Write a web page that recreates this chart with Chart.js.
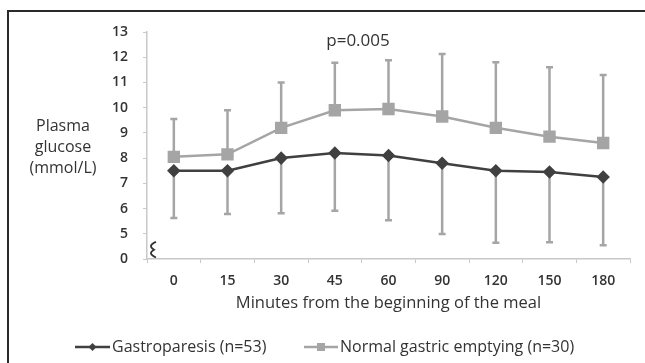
<!DOCTYPE html>
<html>
<head>
<meta charset="utf-8">
<script src="https://cdn.jsdelivr.net/npm/chart.js@4"></script>
<style>
  body { margin: 0; background: #fff; }
  #wrap { width: 645px; height: 363px; position: relative; }
</style>
</head>
<body>
<div id="wrap"><canvas id="glucoseChart" width="645" height="363"></canvas></div>
<script>
// Data
const minutes = ['0', '15', '30', '45', '60', '90', '120', '150', '180'];
const gastroparesis = [7.5, 7.5, 8.0, 8.2, 8.1, 7.8, 7.5, 7.45, 7.25];
const gastroparesisSD = [1.87, 1.72, 2.19, 2.29, 2.56, 2.81, 2.86, 2.79, 2.7];
const normalEmptying = [8.05, 8.15, 9.2, 9.9, 9.95, 9.65, 9.2, 8.85, 8.6];
const normalEmptyingSD = [1.5, 1.75, 1.8, 1.88, 1.93, 2.48, 2.6, 2.75, 2.7];
const yTicks = [0, 5, 6, 7, 8, 9, 10, 11, 12, 13];

const FONT = '"Open Sans", Lato, sans-serif';
const TEXT = '#333333';
const DARK = '#404040';
const GREY = '#a5a5a5';

// upper bars on the normal series, lower bars on the gastroparesis series
const errorBars = {
  id: 'errorBars',
  beforeDatasetsDraw(chart) {
    const ctx = chart.ctx;
    const y = chart.scales.y;
    const sets = [
      { meta: chart.getDatasetMeta(1), vals: normalEmptying, sd: normalEmptyingSD, dir: 1 },
      { meta: chart.getDatasetMeta(0), vals: gastroparesis, sd: gastroparesisSD, dir: -1 }
    ];
    ctx.save();
    ctx.strokeStyle = GREY;
    ctx.lineWidth = 2.5;
    sets.forEach(s => {
      s.meta.data.forEach((pt, i) => {
        const y0 = y.getPixelForValue(s.vals[i]);
        const y1 = y.getPixelForValue(s.vals[i] + s.dir * s.sd[i]);
        ctx.beginPath();
        ctx.moveTo(pt.x, y0);
        ctx.lineTo(pt.x, y1);
        ctx.moveTo(pt.x - 3.5, y1);
        ctx.lineTo(pt.x + 3.5, y1);
        ctx.stroke();
      });
    });
    ctx.restore();
  }
};

// frame, axis break, y label, p value and legend
const extras = {
  id: 'extras',
  afterDraw(chart) {
    const ctx = chart.ctx;
    const area = chart.chartArea;
    const y = chart.scales.y;
    ctx.save();

    ctx.strokeStyle = '#2a2a2a';
    ctx.lineWidth = 2;
    ctx.beginPath();
    ctx.moveTo(8, 363);
    ctx.lineTo(8, 11);
    ctx.lineTo(645, 11);
    ctx.stroke();

    // break mark on the y axis
    const bx = area.left + 6;
    const by0 = y.getPixelForValue(4.68);
    const by1 = y.getPixelForValue(4.06);
    const h = (by1 - by0) / 4;
    ctx.strokeStyle = '#333';
    ctx.lineWidth = 1.8;
    ctx.beginPath();
    ctx.moveTo(bx + 3, by0);
    ctx.quadraticCurveTo(bx - 6, by0 + h, bx + 1, by0 + 2 * h);
    ctx.quadraticCurveTo(bx - 6, by0 + 3 * h, bx + 3, by1);
    ctx.stroke();

    ctx.fillStyle = TEXT;
    ctx.textAlign = 'center';
    ctx.textBaseline = 'middle';
    ctx.font = '16px ' + FONT;
    ['Plasma', 'glucose', '(mmol/L)'].forEach((t, i) => ctx.fillText(t, 63, 126 + i * 21));

    ctx.font = '17px ' + FONT;
    ctx.fillText('p=0.005', 358, 41);

    // legend
    const ly = 347;
    const items = [
      { x0: 75, x1: 110, color: DARK, shape: 'diamond', label: 'Gastroparesis (n=53)' },
      { x0: 304, x1: 338, color: GREY, shape: 'square', label: 'Normal gastric emptying (n=30)' }
    ];
    ctx.font = '16px ' + FONT;
    ctx.textAlign = 'left';
    items.forEach(it => {
      ctx.strokeStyle = it.color;
      ctx.fillStyle = it.color;
      ctx.lineWidth = 2.5;
      ctx.beginPath();
      ctx.moveTo(it.x0, ly);
      ctx.lineTo(it.x1, ly);
      ctx.stroke();
      const cx = (it.x0 + it.x1) / 2;
      ctx.beginPath();
      if (it.shape === 'diamond') {
        ctx.moveTo(cx, ly - 4); ctx.lineTo(cx + 4, ly); ctx.lineTo(cx, ly + 4); ctx.lineTo(cx - 4, ly);
      } else {
        ctx.rect(cx - 4, ly - 4, 8, 8);
      }
      ctx.fill();
      ctx.fillStyle = TEXT;
      ctx.fillText(it.label, it.x1 + 2, ly);
    });
    ctx.restore();
  }
};

new Chart(document.getElementById('glucoseChart'), {
  type: 'line',
  data: {
    labels: minutes,
    datasets: [{
      label: 'Gastroparesis (n=53)',
      data: gastroparesis,
      borderColor: DARK,
      backgroundColor: DARK,
      borderWidth: 2.5,
      pointStyle: 'rectRot',
      pointRadius: 5,
      tension: 0
    }, {
      label: 'Normal gastric emptying (n=30)',
      data: normalEmptying,
      borderColor: GREY,
      backgroundColor: GREY,
      borderWidth: 2.5,
      pointStyle: 'rect',
      pointRadius: 7,
      tension: 0
    }]
  },
  options: {
    responsive: false,
    animation: false,
    layout: { padding: { top: 32, right: 15, bottom: 50, left: 0 } },
    plugins: {
      legend: { display: false },
      tooltip: { enabled: false }
    },
    scales: {
      x: {
        offset: true,
        grid: { offset: true, drawOnChartArea: false, tickLength: 4, color: '#c8c8c8' },
        border: { color: '#c8c8c8', width: 1.5 },
        ticks: { color: TEXT, font: { family: FONT, size: 14, weight: '600' }, padding: 10 },
        title: {
          display: true,
          text: 'Minutes from the beginning of the meal',
          color: TEXT,
          font: { family: FONT, size: 16.5 },
          padding: { top: 4, bottom: 0 }
        },
        afterFit(scale) { scale.height = 54; }
      },
      y: {
        min: 4,
        max: 13,
        afterBuildTicks(scale) {
          scale.ticks = yTicks.map(v => ({ value: v === 0 ? 4 : v }));
        },
        grid: { drawOnChartArea: false, tickLength: 4, color: '#c8c8c8' },
        border: { color: '#c8c8c8', width: 1.5 },
        ticks: {
          color: TEXT,
          font: { family: FONT, size: 14, weight: '600' },
          padding: 15,
          callback: v => (v === 4 ? '0' : String(v))
        },
        afterFit(scale) { scale.width = 147; }
      }
    }
  },
  plugins: [errorBars, extras]
});
</script>
</body>
</html>
